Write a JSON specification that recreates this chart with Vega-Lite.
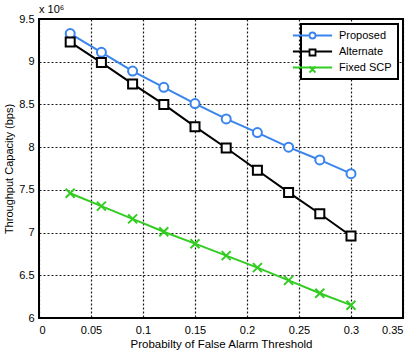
{
  "$schema": "https://vega.github.io/schema/vega-lite/v6.json",
  "width": 364,
  "height": 299,
  "autosize": {"type": "none"},
  "padding": {"left": 39, "top": 19, "right": 12, "bottom": 33},
  "background": "white",
  "title": {"text": "x 10⁶", "anchor": "start", "frame": "group", "fontSize": 11, "fontWeight": "normal", "font": "Liberation Sans", "offset": -2, "color": "black"},
  "config": {
    "font": "Liberation Sans",
    "view": {"stroke": "black", "strokeWidth": 2},
    "axis": {
      "labelFontSize": 11, "labelColor": "black", "labelFont": "Liberation Sans",
      "titleFontSize": 11, "titleFontWeight": "normal", "titleColor": "black", "titleFont": "Liberation Sans",
      "grid": true, "gridColor": "black", "gridDash": [2, 2], "gridWidth": 1.2, "gridOpacity": 0.9,
      "domain": false, "ticks": false, "labelPadding": 5
    },
    "legend": {"strokeWidth": 2}
  },
  "data": {"values": [
    {"pfa": 0.03, "series": "Proposed", "capacity": 9330000},
    {"pfa": 0.06, "series": "Proposed", "capacity": 9110000},
    {"pfa": 0.09, "series": "Proposed", "capacity": 8890000},
    {"pfa": 0.12, "series": "Proposed", "capacity": 8700000},
    {"pfa": 0.15, "series": "Proposed", "capacity": 8510000},
    {"pfa": 0.18, "series": "Proposed", "capacity": 8330000},
    {"pfa": 0.21, "series": "Proposed", "capacity": 8170000},
    {"pfa": 0.24, "series": "Proposed", "capacity": 8000000},
    {"pfa": 0.27, "series": "Proposed", "capacity": 7850000},
    {"pfa": 0.30, "series": "Proposed", "capacity": 7690000},
    {"pfa": 0.03, "series": "Alternate", "capacity": 9230000},
    {"pfa": 0.06, "series": "Alternate", "capacity": 8990000},
    {"pfa": 0.09, "series": "Alternate", "capacity": 8740000},
    {"pfa": 0.12, "series": "Alternate", "capacity": 8500000},
    {"pfa": 0.15, "series": "Alternate", "capacity": 8240000},
    {"pfa": 0.18, "series": "Alternate", "capacity": 7990000},
    {"pfa": 0.21, "series": "Alternate", "capacity": 7730000},
    {"pfa": 0.24, "series": "Alternate", "capacity": 7470000},
    {"pfa": 0.27, "series": "Alternate", "capacity": 7220000},
    {"pfa": 0.30, "series": "Alternate", "capacity": 6960000},
    {"pfa": 0.03, "series": "Fixed SCP", "capacity": 7460000},
    {"pfa": 0.06, "series": "Fixed SCP", "capacity": 7310000},
    {"pfa": 0.09, "series": "Fixed SCP", "capacity": 7160000},
    {"pfa": 0.12, "series": "Fixed SCP", "capacity": 7010000},
    {"pfa": 0.15, "series": "Fixed SCP", "capacity": 6870000},
    {"pfa": 0.18, "series": "Fixed SCP", "capacity": 6730000},
    {"pfa": 0.21, "series": "Fixed SCP", "capacity": 6590000},
    {"pfa": 0.24, "series": "Fixed SCP", "capacity": 6440000},
    {"pfa": 0.27, "series": "Fixed SCP", "capacity": 6290000},
    {"pfa": 0.30, "series": "Fixed SCP", "capacity": 6150000}
  ]},
  "encoding": {
    "x": {"field": "pfa", "type": "quantitative", "title": "Probabilty of False Alarm Threshold",
      "scale": {"domain": [0, 0.35], "nice": false, "zero": false},
      "axis": {"values": [0, 0.05, 0.1, 0.15, 0.2, 0.25, 0.3, 0.35], "format": "~g", "titlePadding": 3, "labelPadding": 6, "titleFontSize": 11.5}},
    "y": {"field": "capacity", "type": "quantitative", "title": "Throughput Capacity (bps)",
      "scale": {"domain": [6000000, 9500000], "nice": false, "zero": false},
      "axis": {"values": [6000000, 6500000, 7000000, 7500000, 8000000, 8500000, 9000000, 9500000], "labelExpr": "format(datum.value / 1000000, '~g')", "titlePadding": 4}}
  },
  "layer": [
    {"mark": {"type": "line", "strokeWidth": 2},
      "encoding": {"stroke": {"field": "series", "type": "nominal", "sort": ["Proposed", "Alternate", "Fixed SCP"],
        "scale": {"range": ["#3a84ee", "#000000", "#33cc22"]},
        "legend": {
          "orient": "top-right", "offset": 5, "title": null,
          "fillColor": "white", "strokeColor": "black", "padding": 6,
          "labelFontSize": 11, "labelColor": "black", "labelOffset": 21, "rowPadding": 4,
          "symbolType": "M-5.6,0H5.6", "symbolSize": 49, "symbolStrokeWidth": 2
        }}}},
    {"mark": {"type": "point", "filled": false, "fill": "white", "strokeWidth": 2, "size": 81, "opacity": 1},
      "encoding": {
        "color": {"field": "series", "type": "nominal",
          "scale": {"domain": ["Proposed", "Alternate", "Fixed SCP"], "range": ["#3a84ee", "#000000", "#33cc22"]},
          "legend": {"orient": "none", "legendX": 268, "legendY": 11, "title": null, "padding": 0,
            "labelFontSize": 11, "labelExpr": "''", "rowPadding": 2,
            "symbolSize": 36, "symbolStrokeWidth": 1.8, "symbolFillColor": "white"}},
        "shape": {"field": "series", "type": "nominal",
          "scale": {"domain": ["Proposed", "Alternate", "Fixed SCP"], "range": ["circle", "square", "M-1,-1L1,1M-1,1L1,-1"]},
          "legend": null}
      }}
  ]
}
